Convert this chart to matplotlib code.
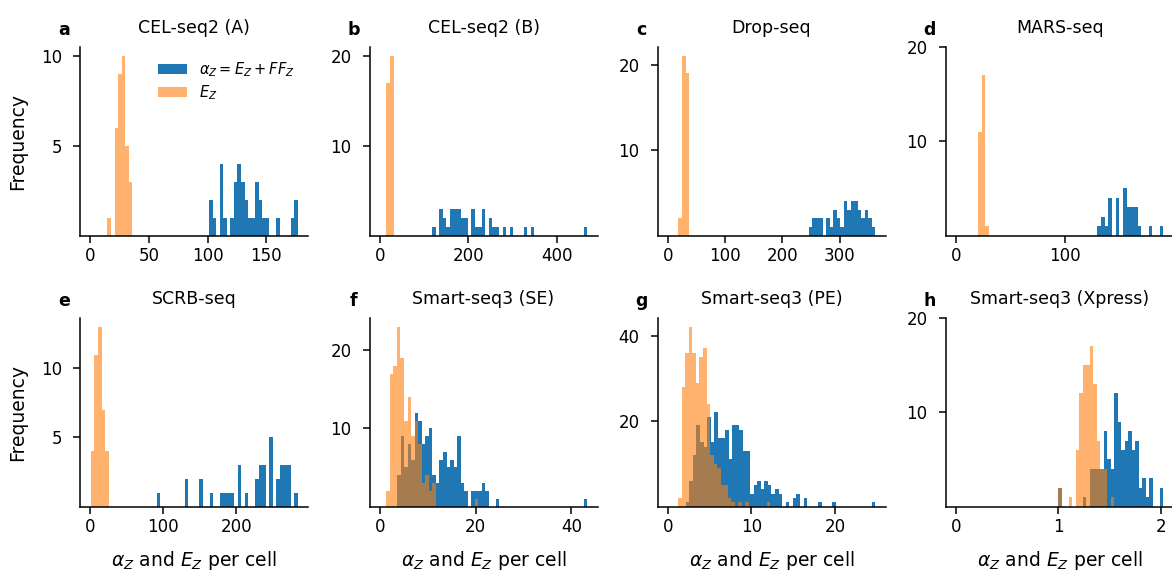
import numpy as np
import matplotlib
matplotlib.use('Agg')
import matplotlib.pyplot as plt

titles = ['CEL-seq2 (A)', 'CEL-seq2 (B)', 'Drop-seq', 'MARS-seq',
          'SCRB-seq', 'Smart-seq3 (SE)', 'Smart-seq3 (PE)', 'Smart-seq3 (Xpress)']
letters = ['a', 'b', 'c', 'd', 'e', 'f', 'g', 'h']

# (min, max) of the values and counts per equal-width bin
a_alpha_range = (101.4, 176.9)
a_alpha_counts = [2, 1, 0, 4, 1, 0, 1, 3, 4, 3, 2, 1, 1, 3, 2, 1, 1, 0, 0, 1, 0, 0, 0, 1, 2]
a_E_range = (14.5, 35.9)
a_E_counts = [1, 0, 6, 9, 10, 5, 3]

b_alpha_range = (118.9, 469.0)
b_alpha_counts = [1, 0, 3, 2, 1, 3, 3, 3, 2, 2, 0, 3, 1, 1, 3, 0, 2, 1, 1, 0, 1, 0,
                  1, 0, 0, 0, 1, 0, 1, 0, 0, 0, 0, 0, 0, 0, 0, 0, 0, 0, 0, 0, 0, 1]
b_E_range = (14.4, 32.6)
b_E_counts = [17, 20]

c_alpha_range = (246.2, 362.0)
c_alpha_counts = [1, 2, 2, 2, 0, 2, 1, 3, 2, 1, 4, 3, 4, 4, 3, 2, 3, 2, 1]
c_E_range = (18.1, 37.4)
c_E_counts = [2, 21, 19]

d_alpha_range = (129.8, 190.5)
d_alpha_counts = [1, 2, 1, 4, 0, 4, 0, 5, 3, 3, 3, 1, 0, 0, 1, 0, 0, 1]
d_E_range = (20.6, 30.4)
d_E_counts = [11, 17, 1]

e_alpha_range = (90.9, 284.0)
e_alpha_counts = [1, 0, 0, 0, 0, 0, 0, 0, 2, 0, 0, 0, 2, 0, 0, 1, 0, 0, 1, 1,
                  1, 1, 0, 3, 0, 1, 0, 0, 2, 3, 3, 0, 5, 0, 2, 3, 3, 3, 0, 1]
e_E_range = (0.5, 25.1)
e_E_counts = [4, 11, 13, 7, 4]

f_alpha_range = (3.64, 43.3)
f_alpha_counts = [4, 9, 5, 8, 6, 12, 11, 8, 9, 10, 4, 3, 6, 7, 5, 6, 5, 9, 3, 2,
                  0, 2, 2, 2, 3, 2, 0, 0, 1, 0, 0, 0, 0, 0, 0, 0, 0, 0, 0, 0,
                  0, 0, 0, 0, 0, 0, 0, 0, 0, 0, 0, 0, 0, 1]
f_E_range = (1.33, 20.6)
f_E_counts = [2, 17, 18, 23, 19, 11, 14, 9, 11, 8, 3, 4, 2, 3, 0, 0, 0, 0, 0, 0,
              0, 0, 0, 0, 0, 1]

g_alpha_range = (2.13, 24.82)
g_alpha_counts = [1, 6, 12, 19, 15, 14, 21, 15, 22, 16, 16, 18, 11, 19, 19, 18, 13, 13, 3, 5,
                  6, 4, 6, 5, 3, 4, 3, 0, 1, 0, 2, 3, 0, 2, 0, 0, 0, 1, 0, 0,
                  0, 1, 0, 0, 0, 0, 0, 0, 0, 0, 0, 0, 1]
g_E_range = (1.245, 12.25)
g_E_counts = [2, 28, 36, 42, 36, 29, 35, 37, 24, 12, 10, 9, 5, 5, 2, 1, 0, 1, 0, 1,
              0, 0, 0, 0, 0, 1]

h_alpha_range = (0.997, 2.023)
h_alpha_counts = [2, 0, 0, 0, 0, 0, 0, 1, 0, 4, 4, 4, 4, 8, 5, 4, 12, 9, 6, 7,
                  8, 6, 7, 2, 3, 1, 3, 0, 0, 2]
h_E_range = (0.997, 1.544)
h_E_counts = [2, 0, 0, 1, 0, 6, 12, 15, 15, 17, 13, 7, 4, 4, 0, 1]

x_ticks = [[0, 50, 100, 150], [0, 200, 400], [0, 100, 200, 300], [0, 100],
           [0, 100, 200], [0, 20, 40], [0, 10, 20], [0, 1, 2]]
y_ticks = [[5, 10], [10, 20], [10, 20], [10, 20], [5, 10], [10, 20], [20, 40], [10, 20]]

alpha_data = [(a_alpha_range, a_alpha_counts), (b_alpha_range, b_alpha_counts),
              (c_alpha_range, c_alpha_counts), (d_alpha_range, d_alpha_counts),
              (e_alpha_range, e_alpha_counts), (f_alpha_range, f_alpha_counts),
              (g_alpha_range, g_alpha_counts), (h_alpha_range, h_alpha_counts)]
E_data = [(a_E_range, a_E_counts), (b_E_range, b_E_counts), (c_E_range, c_E_counts),
          (d_E_range, d_E_counts), (e_E_range, e_E_counts), (f_E_range, f_E_counts),
          (g_E_range, g_E_counts), (h_E_range, h_E_counts)]

plt.rcParams['font.family'] = ['DejaVu Sans']
plt.rcParams['font.size'] = 12
plt.rcParams['axes.linewidth'] = 1.1

W, H = 1172, 572
fig = plt.figure(figsize=(W / 100, H / 100), dpi=100)

lefts = [80, 369.5, 657.5, 945.6]
tops = [47, 318]
aw, ah = 228, 188.5


def hist_from(ax, rng, counts, **kw):
    edges = np.linspace(rng[0], rng[1], len(counts) + 1)
    centers = 0.5 * (edges[:-1] + edges[1:])
    return ax.hist(centers, bins=edges, weights=counts, **kw)


for i in range(8):
    r, c = divmod(i, 4)
    ax = fig.add_axes([lefts[c] / W, 1 - (tops[r] + ah) / H, aw / W, ah / H])
    (ar, ac), (er, ec) = alpha_data[i], E_data[i]
    hist_from(ax, ar, ac, color='#1f77b4', label=r'$\alpha_Z = E_Z + FF_Z$')
    hist_from(ax, er, ec, color='#ff7f0e', alpha=0.6, label=r'$E_Z$')
    M = max(ar[1], er[1])
    ax.set_xlim(-0.05 * M, 1.05 * M)
    ax.set_xticks(x_ticks[i])
    ax.set_yticks(y_ticks[i])
    ax.spines['top'].set_visible(False)
    ax.spines['right'].set_visible(False)
    ax.tick_params(length=5, width=1.1, labelsize=12)
    ax.tick_params(axis='y', pad=8)
    ax.set_title(titles[i], fontsize=12.5, pad=10)
    ax.text(-0.07, 1.0 + 10 / ah + 0.01, letters[i], transform=ax.transAxes,
            fontsize=12.5, fontweight='bold', ha='center', va='baseline')
    if c == 0:
        ax.set_ylabel('Frequency', fontsize=13.5, labelpad=10)
    if r == 1:
        ax.set_xlabel(r'$\alpha_Z$ and $E_Z$ per cell', fontsize=13.5, labelpad=9)
    if i == 0:
        ax.legend(frameon=False, loc='upper right', fontsize=10.5, labelspacing=0.3)

fig.savefig('out.png', dpi=100)
